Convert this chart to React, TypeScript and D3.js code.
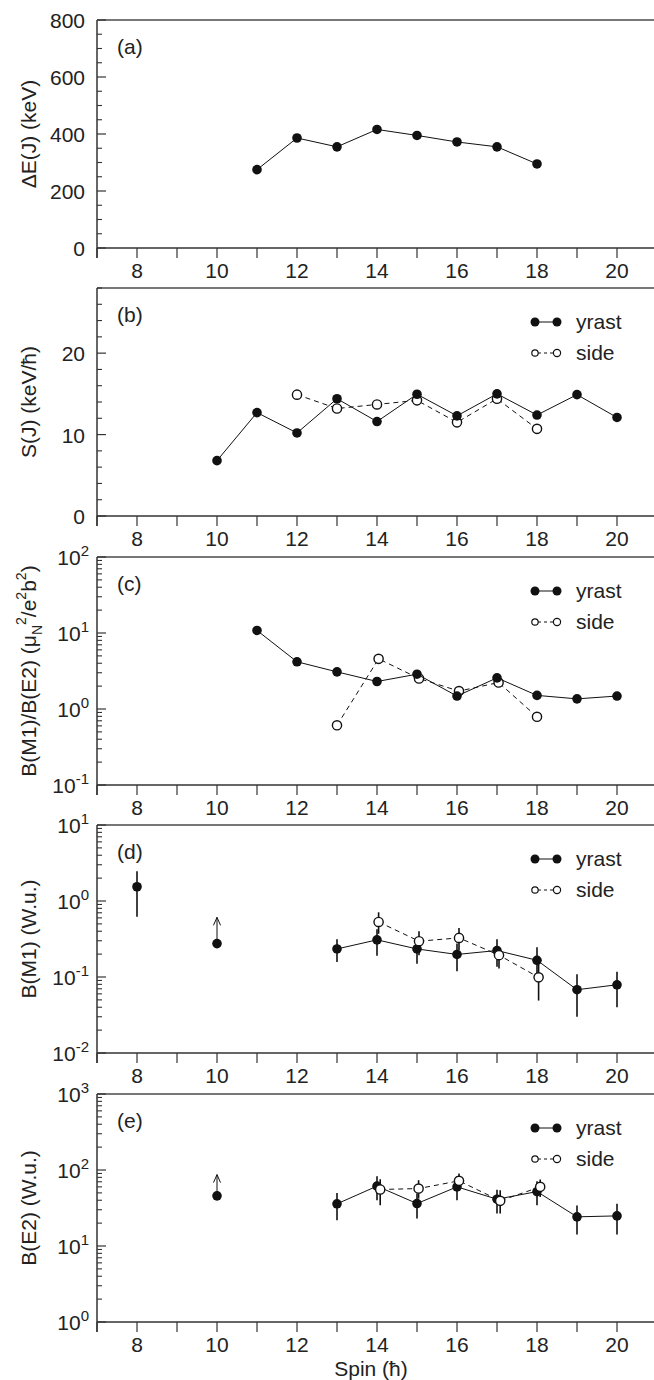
import React from "react";
import * as d3 from "d3";

// spin axis shared by every panel
const spinTicks = [7, 8, 9, 10, 11, 12, 13, 14, 15, 16, 17, 18, 19, 20, 21];
const spinLabels = [8, 10, 12, 14, 16, 18, 20];

// (a) energy difference
const spinA = [11, 12, 13, 14, 15, 16, 17, 18];
const deltaE = [275, 386, 355, 416, 395, 372, 355, 295];

// (b) S(J)
const spinB = [10, 11, 12, 13, 14, 15, 16, 17, 18, 19, 20];
const sYrast = [6.8, 12.7, 10.2, 14.4, 11.6, 14.95, 12.3, 15.0, 12.4, 14.9, 12.1];
const spinBSide = [12, 13, 14, 15, 16, 17, 18];
const sSide = [14.9, 13.2, 13.7, 14.2, 11.5, 14.4, 10.7];

// (c) B(M1)/B(E2)
const spinC = [11, 12, 13, 14, 15, 16, 17, 18, 19, 20];
const ratioYrast = [10.8, 4.18, 3.08, 2.3, 2.87, 1.48, 2.57, 1.51, 1.36, 1.48];
const spinCSide = [13, 14.04, 15.05, 16.05, 17.04, 18];
const ratioSide = [0.61, 4.57, 2.52, 1.72, 2.23, 0.79];

// (d) B(M1)
const spinD = [13, 14, 15, 16, 17, 18, 19, 20];
const bm1Yrast = [0.234, 0.308, 0.234, 0.198, 0.223, 0.166, 0.068, 0.079];
const bm1YrastLo = [0.158, 0.19, 0.149, 0.119, 0.136, 0.112, 0.03, 0.04];
const bm1YrastHi = [0.315, 0.426, 0.33, 0.275, 0.315, 0.247, 0.109, 0.117];
const spinDSide = [14.04, 15.05, 16.05, 17.05, 18.04];
const bm1Side = [0.53, 0.296, 0.327, 0.194, 0.099];
const bm1SideLo = [0.37, 0.194, 0.225, 0.129, 0.049];
const bm1SideHi = [0.71, 0.4, 0.44, 0.25, 0.15];
const bm1Single = { spin: 8, v: 1.54, lo: 0.62, hi: 2.47 };
const bm1Limit = { spin: 10, v: 0.275, arrow: 0.61 };

// (e) B(E2)
const spinE = [13, 14, 15, 16, 17, 18, 19, 20];
const be2Yrast = [35.9, 61.3, 36.2, 60, 41.3, 52, 24.2, 24.9];
const be2YrastLo = [21.8, 40, 23, 40, 26.7, 34.4, 14.2, 14.2];
const be2YrastHi = [50, 83, 49, 83, 55, 71, 34, 36];
const spinESide = [14.08, 15.04, 16.05, 17.08, 18.08];
const be2Side = [55.4, 57, 72, 39.3, 60];
const be2SideLo = [34.4, 42, 54, 26.7, 44];
const be2SideHi = [75.8, 73.5, 90, 54, 75];
const be2Limit = { spin: 10, v: 45.7, arrow: 87 };

const FONT = "'Liberation Sans', Arial, Helvetica, sans-serif";
const FS = 21;
const LEFT = 97;
const PH = 228;

const x = d3.scaleLinear().domain([7, 21]).range([LEFT, 657]);

type Series = {
  xs: number[];
  ys: number[];
  lo?: number[];
  hi?: number[];
  open?: boolean;
  line?: boolean;
};

type PanelProps = {
  top: number;
  log: boolean;
  domain: [number, number];
  majors: number[];
  minors: number[];
  tag: string;
  title: React.ReactNode;
  series: Series[];
  singles?: { spin: number; v: number; lo?: number; hi?: number; arrow?: number }[];
  legend: boolean;
  bottomTitle?: boolean;
};

function Panel(p: PanelProps) {
  const bottom = p.top + PH;
  const y = p.log
    ? d3.scaleLog().domain(p.domain).range([bottom, p.top])
    : d3.scaleLinear().domain(p.domain).range([bottom, p.top]);
  const line = d3
    .line<[number, number]>()
    .x((d) => x(d[0]))
    .y((d) => y(d[1]));

  return (
    <g>
      {/* frame */}
      <line x1={LEFT} x2={654} y1={p.top} y2={p.top} stroke="#777" strokeWidth={2} />
      <line x1={LEFT} x2={LEFT} y1={p.top} y2={bottom + 10} stroke="#333" strokeWidth={1.5} />
      <line x1={LEFT} x2={654} y1={bottom} y2={bottom} stroke="#333" strokeWidth={1.5} />
      {spinTicks.map((t) => (
        <line key={"xt" + t} x1={x(t)} x2={x(t)} y1={bottom} y2={bottom + 10} stroke="#333" strokeWidth={1.2} />
      ))}
      {spinLabels.map((t) => (
        <text key={"xl" + t} x={x(t)} y={bottom + 30} textAnchor="middle" fontSize={FS} fontFamily={FONT} fill="#222">
          {t}
        </text>
      ))}
      {/* y ticks */}
      {p.majors.map((t) => (
        <line key={"ym" + t} x1={LEFT} x2={LEFT + 9} y1={y(t)} y2={y(t)} stroke="#333" strokeWidth={1.2} />
      ))}
      {p.minors.map((t) => (
        <line key={"yn" + t} x1={LEFT} x2={LEFT + 5} y1={y(t)} y2={y(t)} stroke="#333" strokeWidth={1.1} />
      ))}
      {p.majors.map((t) =>
        p.log ? (
          <text key={"yl" + t} x={LEFT - 8} y={y(t) + 8} textAnchor="end" fontSize={FS} fontFamily={FONT} fill="#222">
            10
            <tspan fontSize={15} dy={-9}>
              {Math.round(Math.log10(t))}
            </tspan>
          </text>
        ) : (
          <text key={"yl" + t} x={LEFT - 12} y={y(t) + 8} textAnchor="end" fontSize={FS} fontFamily={FONT} fill="#222">
            {t}
          </text>
        )
      )}
      <text
        transform={`translate(36,${p.top + PH / 2}) rotate(-90)`}
        textAnchor="middle"
        fontSize={FS}
        fontFamily={FONT}
        fill="#222"
      >
        {p.title}
      </text>
      <text x={117} y={p.top + 34} fontSize={FS} fontFamily={FONT} fill="#222">
        {p.tag}
      </text>
      {/* series */}
      {p.series.map((s, i) => (
        <g key={"s" + i}>
          {s.line !== false && (
            <path
              d={line(s.xs.map((v, k) => [v, s.ys[k]] as [number, number])) || ""}
              fill="none"
              stroke="#111"
              strokeWidth={1}
              strokeDasharray={s.open ? "5,4" : undefined}
            />
          )}
          {s.lo &&
            s.xs.map((v, k) => (
              <line key={"e" + k} x1={x(v)} x2={x(v)} y1={y(s.lo![k])} y2={y(s.hi![k])} stroke="#111" strokeWidth={1.6} />
            ))}
          {s.xs.map((v, k) => (
            <circle
              key={"c" + k}
              cx={x(v)}
              cy={y(s.ys[k])}
              r={s.open ? 4.6 : 4.8}
              fill={s.open ? "white" : "#111"}
              stroke="#111"
              strokeWidth={s.open ? 1.4 : 0}
            />
          ))}
        </g>
      ))}
      {(p.singles || []).map((s, i) => (
        <g key={"sg" + i}>
          {s.lo !== undefined && (
            <line x1={x(s.spin)} x2={x(s.spin)} y1={y(s.lo)} y2={y(s.hi!)} stroke="#111" strokeWidth={1.6} />
          )}
          {s.arrow !== undefined && (
            <g>
              <line x1={x(s.spin)} x2={x(s.spin)} y1={y(s.v)} y2={y(s.arrow)} stroke="#111" strokeWidth={1} />
              <path
                d={`M${x(s.spin) - 3.5},${y(s.arrow) + 8} L${x(s.spin)},${y(s.arrow)} L${x(s.spin) + 3.5},${y(s.arrow) + 8}`}
                fill="none"
                stroke="#111"
                strokeWidth={1}
              />
            </g>
          )}
          <circle cx={x(s.spin)} cy={y(s.v)} r={4.8} fill="#111" />
        </g>
      ))}
      {p.legend && (
        <g fontFamily={FONT} fontSize={FS} fill="#222">
          <line x1={535} x2={557} y1={p.top + 34} y2={p.top + 34} stroke="#111" strokeWidth={1} />
          <circle cx={535} cy={p.top + 34} r={4.5} fill="#111" />
          <circle cx={557} cy={p.top + 34} r={4.5} fill="#111" />
          <text x={576} y={p.top + 41}>yrast</text>
          <line x1={538} x2={553} y1={p.top + 65} y2={p.top + 65} stroke="#111" strokeWidth={1} strokeDasharray="3,3" />
          <circle cx={535} cy={p.top + 65} r={3.2} fill="white" stroke="#111" strokeWidth={1.2} />
          <circle cx={557} cy={p.top + 65} r={3.6} fill="white" stroke="#111" strokeWidth={1.2} />
          <text x={576} y={p.top + 72}>side</text>
        </g>
      )}
      {p.bottomTitle && (
        <text x={371} y={bottom + 54} textAnchor="middle" fontSize={FS} fontFamily={FONT} fill="#222">
          Spin (ħ)
        </text>
      )}
    </g>
  );
}

function logMinors(lo: number, hi: number) {
  const out: number[] = [];
  for (let e = lo; e < hi; e++) {
    for (let m = 2; m <= 9; m++) out.push(m * Math.pow(10, e));
  }
  return out;
}

export default function App() {
  const linMinorsA = d3.range(0, 801, 50).filter((v) => v % 200 !== 0);
  const linMinorsB = d3.range(0, 28.1, 2).filter((v) => v % 10 !== 0);
  return (
    <svg
      width={654}
      height={1380}
      style={{ position: "absolute", left: 0, top: 0, background: "white" }}
    >
      <Panel
        top={20}
        log={false}
        domain={[0, 800]}
        majors={[0, 200, 400, 600, 800]}
        minors={linMinorsA}
        tag="(a)"
        title="ΔE(J) (keV)"
        series={[{ xs: spinA, ys: deltaE }]}
        legend={false}
      />
      <Panel
        top={288}
        log={false}
        domain={[0, 28]}
        majors={[0, 10, 20]}
        minors={linMinorsB}
        tag="(b)"
        title="S(J) (keV/ħ)"
        series={[
          { xs: spinBSide, ys: sSide, open: true },
          { xs: spinB, ys: sYrast },
        ]}
        legend={true}
      />
      <Panel
        top={557}
        log={true}
        domain={[0.1, 100]}
        majors={[0.1, 1, 10, 100]}
        minors={logMinors(-1, 2)}
        tag="(c)"
        title={
          <>
            B(M1)/B(E2) (μ
            <tspan fontSize={14} dy={6}>N</tspan>
            <tspan fontSize={14} dy={-16}>2</tspan>
            <tspan dy={10}>/e</tspan>
            <tspan fontSize={14} dy={-10}>2</tspan>
            <tspan dy={10}>b</tspan>
            <tspan fontSize={14} dy={-10}>2</tspan>
            <tspan dy={10}>)</tspan>
          </>
        }
        series={[
          { xs: spinCSide, ys: ratioSide, open: true },
          { xs: spinC, ys: ratioYrast },
        ]}
        legend={true}
      />
      <Panel
        top={825}
        log={true}
        domain={[0.01, 10]}
        majors={[0.01, 0.1, 1, 10]}
        minors={logMinors(-2, 1)}
        tag="(d)"
        title="B(M1) (W.u.)"
        series={[
          { xs: spinD, ys: bm1Yrast, lo: bm1YrastLo, hi: bm1YrastHi },
          { xs: spinDSide, ys: bm1Side, lo: bm1SideLo, hi: bm1SideHi, open: true },
        ]}
        singles={[bm1Single, bm1Limit]}
        legend={true}
      />
      <Panel
        top={1094}
        log={true}
        domain={[1, 1000]}
        majors={[1, 10, 100, 1000]}
        minors={logMinors(0, 3)}
        tag="(e)"
        title="B(E2) (W.u.)"
        series={[
          { xs: spinE, ys: be2Yrast, lo: be2YrastLo, hi: be2YrastHi },
          { xs: spinESide, ys: be2Side, lo: be2SideLo, hi: be2SideHi, open: true },
        ]}
        singles={[be2Limit]}
        legend={true}
        bottomTitle={true}
      />
    </svg>
  );
}
